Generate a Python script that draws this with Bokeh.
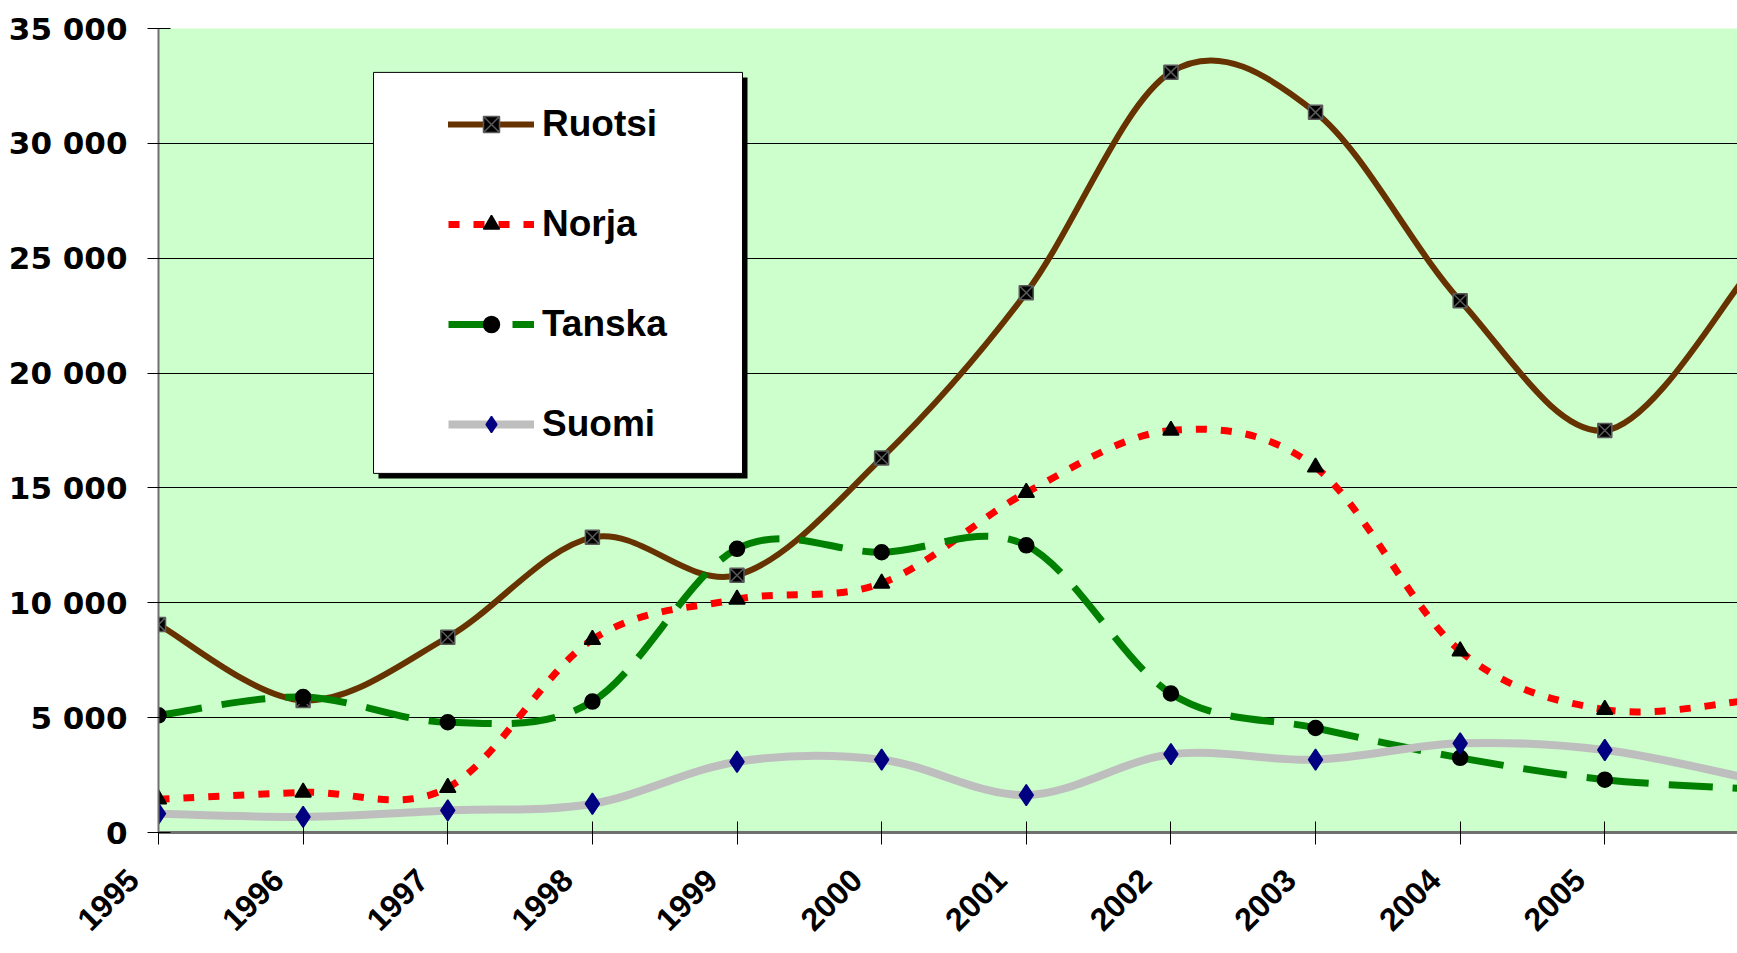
import math
import numpy as np
from bokeh.plotting import figure
from bokeh.models import FixedTicker, Legend, LegendItem, BoxAnnotation, Range1d, ColumnDataSource
from bokeh.embed import file_html
from bokeh.resources import INLINE

# ---------------- data ----------------
years = [1995, 1996, 1997, 1998, 1999, 2000, 2001, 2002, 2003, 2004, 2005, 2006]
ruotsi = [9050, 5750, 8500, 12850, 11200, 16300, 23500, 33100, 31350, 23150, 17500, 24400]
norja = [1450, 1750, 1950, 8400, 10150, 10850, 14800, 17500, 15900, 7900, 5350, 5750]
tanska = [5100, 5900, 4800, 5700, 12350, 12200, 12500, 6050, 4550, 3250, 2300, 1900]
suomi = [820, 680, 960, 1250, 3080, 3170, 1630, 3410, 3170, 3880, 3590, 2350]
series_names = ["Ruotsi", "Norja", "Tanska", "Suomi"]
x_tick_labels = ["1995", "1996", "1997", "1998", "1999", "2000", "2001", "2002",
                 "2003", "2004", "2005", "2006"]
y_ticks = [0, 5000, 10000, 15000, 20000, 25000, 30000, 35000]
y_tick_labels = ["0", "5 000", "10 000", "15 000", "20 000", "25 000", "30 000", "35 000"]

# ---------------- layout ----------------
W, H = 1737, 953
BORDER_L, BORDER_T = 158, 28
FRAME_H = 806
BORDER_B = H - BORDER_T - FRAME_H
FRAME_W = W - BORDER_L
PX_PER_YEAR = 144.63
X0 = 1995
X1 = X0 + FRAME_W / PX_PER_YEAR
Y0, Y1 = 0, 35000


def fx(px):
    return X0 + px * (X1 - X0) / FRAME_W


def fy(py):
    return Y1 - py * (Y1 - Y0) / FRAME_H


FONT = "Liberation Sans"
NBSP = "\u00a0"

p = figure(width=W, height=H, x_range=Range1d(X0, X1), y_range=Range1d(Y0, Y1),
           output_backend="svg", toolbar_location=None,
           min_border_left=BORDER_L, min_border_right=0,
           min_border_top=BORDER_T, min_border_bottom=BORDER_B)
p.background_fill_color = "#CCFFCC"
p.border_fill_color = "white"
p.outline_line_color = None

# grid
p.xgrid.visible = False
p.ygrid.ticker = FixedTicker(ticks=y_ticks)
p.ygrid.grid_line_color = "black"
p.ygrid.grid_line_width = 1

# y axis
p.yaxis.ticker = FixedTicker(ticks=y_ticks)
p.yaxis.major_label_overrides = {t: l for t, l in zip(y_ticks, y_tick_labels)}
p.yaxis.major_label_text_font = "DejaVu Sans"
p.yaxis.major_label_text_font_style = "bold"
p.yaxis.major_label_text_font_size = "31px"
p.yaxis.major_label_text_color = "black"
p.yaxis.major_label_standoff = 20
p.yaxis.major_tick_in = 12
p.yaxis.major_tick_out = 11
p.yaxis.minor_tick_line_color = None
p.yaxis.axis_line_color = "#707070"
p.yaxis.axis_line_width = 2
p.yaxis.major_tick_line_color = "black"

# x axis (labels end slightly left of/below the tick, as in the original)
p.xaxis.ticker = FixedTicker(ticks=years)
p.xaxis.major_label_overrides = {y: l + NBSP * 4 for y, l in zip(years, x_tick_labels)}
p.xaxis.major_label_orientation = math.pi / 4
p.xaxis.major_label_text_font = FONT
p.xaxis.major_label_text_font_style = "bold"
p.xaxis.major_label_text_font_size = "32px"
p.xaxis.major_label_text_color = "black"
p.xaxis.major_label_standoff = 5
p.xaxis.major_tick_in = 11
p.xaxis.major_tick_out = 12
p.xaxis.minor_tick_line_color = None
p.xaxis.axis_line_color = "#707070"
p.xaxis.axis_line_width = 3
p.xaxis.major_tick_line_color = "black"


def smooth_source(xs, ys):
    x = np.asarray(xs, dtype=float)
    y = np.asarray(ys, dtype=float)
    n = len(x)
    xp = np.concatenate([[x[0]], x, [x[-1]]])
    yp = np.concatenate([[y[0]], y, [y[-1]]])
    return ColumnDataSource(dict(
        x0=x[:-1], y0=y[:-1], x1=x[1:], y1=y[1:],
        cx0=x[:-1] + (xp[2:n + 1] - xp[0:n - 1]) / 6.0,
        cy0=y[:-1] + (yp[2:n + 1] - yp[0:n - 1]) / 6.0,
        cx1=x[1:] - (xp[3:n + 2] - xp[1:n]) / 6.0,
        cy1=y[1:] - (yp[3:n + 2] - yp[1:n]) / 6.0,
    ))


styles = [
    dict(data=ruotsi, color="#663300", width=6, dash="solid", cap="round",
         marker="square_x", msize=14, mfill="black", mline="#5a5a5a"),
    dict(data=norja, color="#FF0000", width=7, dash="11 14", cap="butt",
         marker="triangle", msize=16, mfill="black", mline="black"),
    dict(data=tanska, color="#008000", width=7, dash="44 20", cap="butt",
         marker="circle", msize=15, mfill="black", mline="black"),
    dict(data=suomi, color="#BEBEBE", width=8, dash="solid", cap="butt",
         marker="diamond", msize=21, mfill="#000080", mline="#000080"),
]

items = []
for name, st in zip(series_names, styles):
    src = smooth_source(years, st["data"])
    r_line = p.bezier(x0="x0", y0="y0", x1="x1", y1="y1", cx0="cx0", cy0="cy0",
                      cx1="cx1", cy1="cy1", source=src, line_color=st["color"],
                      line_width=st["width"], line_dash=st["dash"], line_cap=st["cap"])
    r_pts = p.scatter(years, st["data"], marker=st["marker"], size=st["msize"],
                      fill_color=st["mfill"], line_color=st["mline"], line_width=1.5)
    items.append(LegendItem(label=name, renderers=[r_line, r_pts]))

# legend frame (box + drop shadow)
shadow = BoxAnnotation(left=fx(220), right=fx(589), top=fy(49), bottom=fy(451),
                       fill_color="black", fill_alpha=1.0, line_color=None)
box = BoxAnnotation(left=fx(215), right=fx(584), top=fy(44), bottom=fy(446),
                    fill_color="white", fill_alpha=1.0, line_color="black",
                    line_alpha=1.0, line_width=1)
p.add_layout(shadow)
p.add_layout(box)

legend = Legend(items=items, location=(290, 387), orientation="vertical",
                glyph_width=86, glyph_height=40, label_height=40, spacing=58,
                padding=0, margin=0, label_standoff=8,
                label_text_font=FONT, label_text_font_style="bold",
                label_text_font_size="37px", label_text_color="black",
                border_line_color=None, background_fill_alpha=0.0)
p.add_layout(legend)

open("out.html", "w").write(file_html(p, INLINE))
